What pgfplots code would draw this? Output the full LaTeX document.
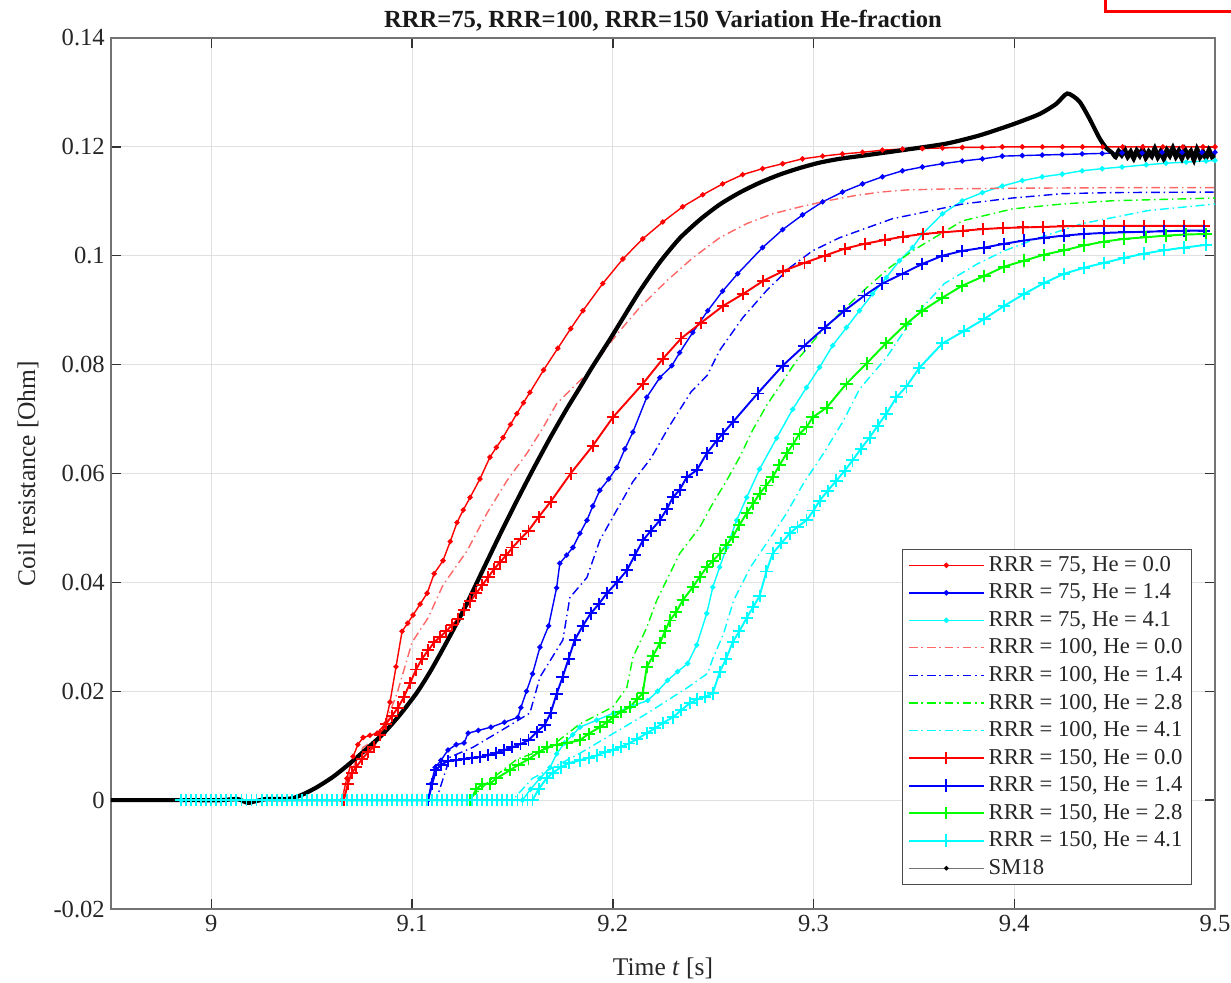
\documentclass[border=0pt]{standalone}
\usepackage{pgfplots}
\pgfplotsset{compat=1.18}
\usepackage{fontspec}
\setmainfont{Liberation Serif}
\definecolor{mred}{rgb}{1,0,0}
\definecolor{mblue}{rgb}{0,0,1}
\definecolor{mcyan}{rgb}{0,1,1}
\definecolor{mgreen}{rgb}{0,1,0}
\begin{document}
\begin{tikzpicture}
\path[use as bounding box] (-22.2mm,-14.8mm) rectangle (224.0mm,181.8mm);
\begin{axis}[
 at={(0,0)}, anchor=south west,
 scale only axis, width=220.8mm, height=174.2mm,
 xmin=8.95, xmax=9.5, ymin=-0.02, ymax=0.14,
 xtick={9,9.1,9.2,9.3,9.4,9.5}, xticklabels={9,9.1,9.2,9.3,9.4,9.5},
 ytick={-0.02,0,0.02,0.04,0.06,0.08,0.1,0.12,0.14},
 yticklabels={-0.02,0,0.02,0.04,0.06,0.08,0.1,0.12,0.14},
 tick align=inside, major tick length=2mm,
 grid=major, major grid style={black!12, line width=0.6pt},
 axis line style={black!55, line width=0.8pt},
 every tick/.style={black!80, line width=0.8pt},
 tick label style={font=\fontsize{14}{16}\selectfont, text=black!85},
 every axis x label/.style={at={(axis description cs:0.5,-0.0758)}, anchor=base, font=\fontsize{14.5}{17}\selectfont, text=black!85},
 every axis y label/.style={at={(axis description cs:-0.0688,0.5)}, anchor=base, rotate=90, font=\fontsize{14.5}{17}\selectfont, text=black!85},
 every axis title/.style={at={(axis description cs:0.5,1.0115)}, anchor=base, font=\bfseries\fontsize{14}{16}\selectfont, text=black!90},
 title={RRR=75, RRR=100, RRR=150 Variation He-fraction},
 xlabel={Time \textit{t} [s]}, ylabel={Coil resistance [Ohm]},
 legend style={at={(0.9792,0.0276)}, anchor=south east, draw=black!70, line width=0.6pt, fill=white,
   font=\fontsize{12.9}{15}\selectfont, text=black!85, row sep=1.2pt, nodes={inner sep=2.2pt}, inner xsep=3pt},
 legend cell align=left,
 legend image code/.code={\draw[mark repeat=2,mark phase=2,#1] plot coordinates {(0mm,0mm) (7.5mm,0mm) (15mm,0mm)};},
 dd/.style={dash pattern=on 5pt off 2.2pt on 0.8pt off 2.2pt},
]
% RRR=75, He=0.0
\addplot[mred, line width=0.8pt, mark=*, mark size=1.1pt, mark options={solid}] coordinates {
(8.985,0) (9.065,0) (9.0675,0.004) (9.0706,0.008) (9.073,0.0102) (9.0756,0.0115) (9.079,0.0119) (9.0826,0.0123)
(9.0866,0.014) (9.089,0.018) (9.092,0.0245) (9.095,0.031) (9.0978,0.0325) (9.1005,0.034) (9.104,0.036) (9.1075,0.038)
(9.111,0.0416) (9.1154,0.044) (9.119,0.0475) (9.1224,0.051) (9.1255,0.0533) (9.1289,0.0556) (9.1338,0.059) (9.1388,0.063)
(9.142,0.0648) (9.1453,0.0666) (9.149,0.069) (9.1522,0.071) (9.1555,0.073) (9.1587,0.0749) (9.1655,0.079) (9.1726,0.083)
(9.179,0.0866) (9.1851,0.0899) (9.195,0.0949) (9.205,0.0994) (9.2149,0.1031) (9.2249,0.1062) (9.2348,0.109) (9.2448,0.1112)
(9.2547,0.1132) (9.2647,0.1149) (9.2746,0.116) (9.2846,0.1169) (9.2945,0.1178) (9.3045,0.1183) (9.3144,0.1187) (9.3244,0.119)
(9.3343,0.1194) (9.3443,0.1196) (9.3542,0.1197) (9.3642,0.1198) (9.3741,0.1199) (9.3841,0.1199) (9.394,0.12) (9.404,0.12)
(9.414,0.12) (9.424,0.12) (9.434,0.12) (9.444,0.12) (9.454,0.12) (9.464,0.12) (9.474,0.12) (9.484,0.12) (9.494,0.12) (9.5,0.12)};
\addlegendentry{RRR = 75, He = 0.0}
% RRR=75, He=1.4
\addplot[mblue, line width=0.8pt, mark=*, mark size=1.1pt, mark options={solid}] coordinates {
(8.985,0) (9.108,0) (9.1095,0.003) (9.1115,0.006) (9.1144,0.0073) (9.1179,0.0092) (9.122,0.0102) (9.1259,0.0105)
(9.1279,0.0123) (9.133,0.0128) (9.1393,0.0134) (9.146,0.0143) (9.1527,0.0152) (9.1542,0.017) (9.157,0.02) (9.16,0.0232)
(9.1637,0.0281) (9.168,0.032) (9.172,0.039) (9.1736,0.0435) (9.177,0.045) (9.1801,0.0464) (9.1836,0.049) (9.1871,0.0514)
(9.19,0.054) (9.1935,0.0569) (9.198,0.059) (9.202,0.0611) (9.206,0.0645) (9.21,0.0676) (9.2169,0.074) (9.2234,0.0776)
(9.2294,0.0798) (9.2333,0.0822) (9.2398,0.0859) (9.2473,0.0899) (9.2547,0.0935) (9.2622,0.0967) (9.2746,0.1015) (9.2846,0.1048)
(9.2945,0.1075) (9.3045,0.1099) (9.3144,0.1117) (9.3244,0.1132) (9.3343,0.1145) (9.3443,0.1156) (9.3542,0.1163) (9.3642,0.1169)
(9.3741,0.1174) (9.3841,0.1178) (9.394,0.1183) (9.404,0.1184) (9.4139,0.1185) (9.4239,0.1186) (9.4338,0.1187) (9.4438,0.1188)
(9.4537,0.1189) (9.4637,0.1189) (9.4736,0.119) (9.4836,0.119) (9.4935,0.119) (9.5,0.119)};
\addlegendentry{RRR = 75, He = 1.4}
% RRR=75, He=4.1
\addplot[mcyan, line width=0.8pt, mark=*, mark size=1.1pt, mark options={solid}] coordinates {
(8.985,0) (9.155,0) (9.159,0.002) (9.1637,0.004) (9.1687,0.006) (9.172,0.0085) (9.176,0.0105) (9.18,0.012) (9.1836,0.0134)
(9.192,0.0147) (9.2005,0.016) (9.209,0.0172) (9.2174,0.0183) (9.2223,0.02) (9.2273,0.022) (9.2323,0.0236) (9.2373,0.0251)
(9.2418,0.0285) (9.2468,0.0343) (9.2498,0.0391) (9.2532,0.0428) (9.2567,0.0464) (9.2617,0.0514) (9.2667,0.0556) (9.2731,0.0608)
(9.2816,0.0665) (9.2896,0.0718) (9.2965,0.0758) (9.303,0.0795) (9.3095,0.0835) (9.3164,0.0868) (9.3229,0.0899) (9.3294,0.093)
(9.3363,0.096) (9.3428,0.0991) (9.3493,0.1015) (9.3542,0.104) (9.3642,0.1077) (9.3741,0.1101) (9.3841,0.1116) (9.394,0.1128)
(9.404,0.1138) (9.4139,0.1145) (9.4239,0.115) (9.4338,0.1156) (9.4438,0.116) (9.4537,0.1163) (9.4657,0.1167) (9.4756,0.117)
(9.4856,0.1172) (9.4955,0.1174) (9.5,0.1175)};
\addlegendentry{RRR = 75, He = 4.1}
% RRR=100, He=0.0
\addplot[mred!60, line width=0.8pt, dd] coordinates {
(8.985,0) (9.0652,0) (9.068,0.004) (9.0756,0.0097) (9.0841,0.0116) (9.0925,0.0196) (9.1,0.029) (9.108,0.0335) (9.1154,0.0395)
(9.1274,0.0458) (9.1373,0.0527) (9.1473,0.0587) (9.1572,0.0637) (9.1652,0.0684) (9.172,0.0728) (9.1886,0.0789) (9.1985,0.0839)
(9.2035,0.0862) (9.2134,0.0905) (9.2269,0.0954) (9.2398,0.0996) (9.2532,0.1033) (9.2667,0.1059) (9.2796,0.1077) (9.2935,0.109)
(9.307,0.1101) (9.3199,0.111) (9.3333,0.1117) (9.3468,0.1121) (9.37,0.1123) (9.4,0.1124) (9.45,0.1125) (9.5,0.1125)};
\addlegendentry{RRR = 100, He = 0.0}
% RRR=100, He=1.4
\addplot[mblue, line width=0.8pt, dd] coordinates {
(8.985,0) (9.112,0) (9.1189,0.0079) (9.1303,0.0097) (9.1472,0.0134) (9.1587,0.016) (9.1637,0.0226) (9.1751,0.0294)
(9.1786,0.0372) (9.1871,0.0409) (9.1935,0.0477) (9.2,0.052) (9.21,0.0585) (9.219,0.0628) (9.228,0.0686) (9.239,0.075)
(9.247,0.078) (9.2532,0.0826) (9.2647,0.0886) (9.2766,0.0936) (9.2881,0.0978) (9.2995,0.1009) (9.3129,0.1033) (9.3264,0.1051)
(9.3393,0.1068) (9.3512,0.1077) (9.3741,0.1095) (9.399,0.1106) (9.4239,0.1114) (9.4488,0.1116) (9.5,0.1117)};
\addlegendentry{RRR = 100, He = 1.4}
% RRR=100, He=2.8
\addplot[mgreen, line width=0.8pt, dd] coordinates {
(8.985,0) (9.128,0) (9.14,0.004) (9.1522,0.0075) (9.1687,0.0097) (9.1836,0.014) (9.2,0.0171) (9.207,0.0207) (9.21,0.0262)
(9.2169,0.0317) (9.2219,0.0367) (9.2333,0.0453) (9.2433,0.0501) (9.2498,0.0545) (9.2567,0.0587) (9.2632,0.063) (9.2697,0.068)
(9.2766,0.0725) (9.2915,0.0807) (9.303,0.0857) (9.3144,0.0899) (9.3264,0.0941) (9.3378,0.0978) (9.3493,0.1009) (9.3741,0.1064)
(9.399,0.1086) (9.4239,0.1095) (9.4488,0.1101) (9.5,0.1106)};
\addlegendentry{RRR = 100, He = 2.8}
% RRR=100, He=4.1
\addplot[mcyan, line width=0.8pt, dd] coordinates {
(8.985,0) (9.15,0) (9.16,0.004) (9.1836,0.0086) (9.2005,0.0123) (9.2174,0.016) (9.2373,0.0207) (9.2473,0.0233) (9.2498,0.026)
(9.2552,0.0306) (9.2602,0.0367) (9.2686,0.0428) (9.2786,0.0483) (9.2866,0.0527) (9.295,0.0582) (9.305,0.0637) (9.3149,0.0697)
(9.3229,0.0755) (9.3363,0.0813) (9.35,0.0888) (9.3652,0.0949) (9.3816,0.0985) (9.395,0.1009) (9.41,0.103) (9.4338,0.1059)
(9.4667,0.1083) (9.5,0.1095)};
\addlegendentry{RRR = 100, He = 4.1}
% RRR=150, He=0.0
\addplot[mred, line width=1.1pt, mark=+, mark size=3.5pt, mark options={solid}] coordinates {
(8.985,0) (9.066,0) (9.068,0.003) (9.07,0.005) (9.072,0.006) (9.075,0.0075) (9.078,0.0088) (9.081,0.0098) (9.084,0.012)
(9.087,0.014) (9.09,0.0155) (9.093,0.017) (9.096,0.019) (9.099,0.0215) (9.102,0.024) (9.105,0.026) (9.108,0.0275) (9.111,0.029)
(9.114,0.03) (9.117,0.031) (9.12,0.0322) (9.123,0.0333) (9.126,0.035) (9.129,0.0365) (9.132,0.038) (9.135,0.0395) (9.138,0.041)
(9.141,0.0425) (9.144,0.0438) (9.147,0.045) (9.15,0.0464) (9.154,0.048) (9.158,0.0495) (9.163,0.052) (9.169,0.0548) (9.179,0.06)
(9.19,0.0651) (9.2,0.0703) (9.215,0.0765) (9.225,0.0811) (9.234,0.0848) (9.244,0.0877) (9.255,0.0908) (9.265,0.093) (9.275,0.0954)
(9.285,0.0972) (9.2955,0.0987) (9.3055,0.1) (9.3155,0.1013) (9.3255,0.1022) (9.3355,0.1029) (9.3445,0.1035) (9.3545,0.104)
(9.3645,0.1043) (9.3745,0.1046) (9.3845,0.1049) (9.3945,0.1051) (9.4045,0.1052) (9.4145,0.1053) (9.4245,0.1054) (9.4345,0.1055)
(9.4445,0.1055) (9.4545,0.1055) (9.4645,0.1055) (9.4745,0.1055) (9.4845,0.1055) (9.4945,0.1055)};
\addlegendentry{RRR = 150, He = 0.0}
% RRR=150, He=1.4
\addplot[mblue, line width=1.1pt, mark=+, mark size=3.5pt, mark options={solid}] coordinates {
(8.985,0) (9.108,0) (9.11,0.003) (9.112,0.0055) (9.1144,0.0065) (9.118,0.0072) (9.122,0.0073) (9.126,0.0076) (9.13,0.0078)
(9.134,0.0079) (9.138,0.0083) (9.142,0.0087) (9.146,0.0092) (9.15,0.0097) (9.154,0.0103) (9.158,0.011) (9.162,0.0125) (9.166,0.0138)
(9.169,0.016) (9.172,0.0195) (9.175,0.0226) (9.178,0.026) (9.181,0.0294) (9.185,0.032) (9.189,0.0343) (9.193,0.036) (9.197,0.038)
(9.202,0.04) (9.207,0.0422) (9.211,0.045) (9.215,0.0477) (9.219,0.0495) (9.2234,0.0514) (9.227,0.0535) (9.2299,0.0556) (9.2333,0.057)
(9.2368,0.0593) (9.2418,0.0606) (9.2468,0.0637) (9.2517,0.066) (9.2547,0.0673) (9.2597,0.0694) (9.2721,0.0747) (9.2846,0.0798)
(9.2955,0.0835) (9.3055,0.0868) (9.3154,0.0899) (9.3254,0.0927) (9.3343,0.0949) (9.3443,0.0967) (9.3542,0.0985) (9.3642,0.1)
(9.3741,0.1009) (9.3851,0.1015) (9.395,0.1022) (9.405,0.1028) (9.4149,0.1033) (9.4249,0.1037) (9.4348,0.104) (9.4448,0.1042)
(9.4547,0.1043) (9.4647,0.1044) (9.4746,0.1045) (9.4846,0.1046) (9.4946,0.1046)};
\addlegendentry{RRR = 150, He = 1.4}
% RRR=150, He=2.8
\addplot[mgreen, line width=1.1pt, mark=+, mark size=3.5pt, mark options={solid}] coordinates {
(8.985,0) (9.129,0) (9.132,0.002) (9.135,0.003) (9.1388,0.003) (9.142,0.004) (9.1488,0.0055) (9.153,0.0065) (9.158,0.0075)
(9.163,0.0088) (9.1672,0.0097) (9.172,0.0102) (9.177,0.0105) (9.1836,0.011) (9.188,0.0122) (9.1935,0.0134) (9.197,0.0143) (9.2,0.0152)
(9.204,0.0162) (9.2085,0.0171) (9.212,0.0185) (9.2149,0.0196) (9.2169,0.0244) (9.22,0.0265) (9.2234,0.0288) (9.226,0.031) (9.2284,0.033)
(9.2315,0.0345) (9.2348,0.0367) (9.2398,0.0391) (9.2433,0.041) (9.2468,0.0428) (9.25,0.044) (9.2532,0.0453) (9.2565,0.0468)
(9.2597,0.0483) (9.263,0.0505) (9.2667,0.0527) (9.27,0.0545) (9.2731,0.0563) (9.2765,0.0578) (9.2796,0.0593) (9.283,0.0615)
(9.2866,0.0637) (9.29,0.0655) (9.293,0.0673) (9.2965,0.0685) (9.2995,0.0703) (9.3065,0.0721) (9.3164,0.0765) (9.3264,0.0802)
(9.3363,0.084) (9.3462,0.0875) (9.3542,0.0899) (9.3642,0.0923) (9.3741,0.0945) (9.3851,0.0963) (9.395,0.098) (9.405,0.0991)
(9.4149,0.1002) (9.4249,0.101) (9.4348,0.1019) (9.4448,0.1026) (9.4547,0.1031) (9.4657,0.1034) (9.4756,0.1037) (9.4856,0.1039)
(9.4955,0.104)};
\addlegendentry{RRR = 150, He = 2.8}
% RRR=150, He=4.1
\addplot[mcyan, line width=1.1pt, mark=+, mark size=3.5pt, mark options={solid}] coordinates {
(8.985,0) (8.9875,0) (8.99,0) (8.9925,0) (8.995,0) (8.9975,0) (9,0) (9.0025,0) (9.005,0) (9.0075,0) (9.01,0) (9.0125,0)
(9.015,0) (9.0175,0) (9.02,0) (9.0225,0) (9.025,0) (9.0275,0) (9.03,0) (9.0325,0) (9.035,0) (9.0375,0) (9.04,0) (9.0425,0)
(9.045,0) (9.0475,0) (9.05,0) (9.0525,0) (9.055,0) (9.0575,0) (9.06,0) (9.0625,0) (9.065,0) (9.0675,0) (9.07,0) (9.0725,0)
(9.075,0) (9.0775,0) (9.08,0) (9.0825,0) (9.085,0) (9.0875,0) (9.09,0) (9.0925,0) (9.095,0) (9.0975,0) (9.1,0) (9.1025,0)
(9.105,0) (9.1075,0) (9.11,0) (9.1125,0) (9.115,0) (9.1175,0) (9.12,0) (9.1225,0) (9.125,0) (9.1275,0) (9.13,0) (9.1325,0)
(9.135,0) (9.1375,0) (9.14,0) (9.1425,0) (9.145,0) (9.1475,0) (9.15,0) (9.1525,0) (9.155,0) (9.1575,0) (9.16,0)
(9.163,0.002) (9.167,0.004) (9.17,0.005) (9.174,0.006) (9.178,0.0068) (9.1836,0.0073) (9.188,0.0078) (9.192,0.0082) (9.196,0.0088)
(9.2,0.0092) (9.204,0.0098) (9.208,0.0104) (9.212,0.0112) (9.2169,0.0123) (9.221,0.0132) (9.225,0.0142) (9.2299,0.0152) (9.234,0.0165)
(9.2383,0.0178) (9.242,0.0185) (9.246,0.019) (9.2498,0.0196) (9.2532,0.0235) (9.2565,0.026) (9.2597,0.029) (9.263,0.031)
(9.2667,0.0335) (9.27,0.0355) (9.2731,0.0375) (9.2765,0.042) (9.2796,0.0453) (9.284,0.0472) (9.2881,0.049) (9.292,0.0502)
(9.2965,0.0514) (9.3,0.0532) (9.303,0.055) (9.307,0.0568) (9.3114,0.0587) (9.3155,0.0605) (9.3194,0.0624) (9.3235,0.0645)
(9.3279,0.0666) (9.332,0.0688) (9.3363,0.071) (9.3413,0.074) (9.3463,0.076) (9.3527,0.0794) (9.3642,0.0839) (9.3751,0.0862)
(9.3851,0.0884) (9.395,0.0908) (9.405,0.093) (9.4149,0.095) (9.4249,0.0967) (9.4348,0.0978) (9.4448,0.0987) (9.4547,0.0996)
(9.4647,0.1004) (9.4746,0.101) (9.4846,0.1015) (9.4955,0.102)};
\addlegendentry{RRR = 150, He = 4.1}
% SM18 measurement
\addplot[black, line width=2.4pt, smooth, tension=0.4, forget plot] coordinates {
(8.95,0) (8.97,0) (8.99,0) (9.005,0) (9.013,0.0002) (9.018,-0.0005) (9.022,-0.0002) (9.027,0.0002) (9.032,0.0002) (9.037,0.0002)
(9.041,0.0004) (9.0465,0.0012) (9.0527,0.0024) (9.0607,0.0043) (9.0692,0.0068) (9.0776,0.0095) (9.0856,0.0122) (9.094,0.0157)
(9.1025,0.0198) (9.109,0.0236) (9.1154,0.0278) (9.1224,0.0326) (9.1274,0.0362) (9.1313,0.0392) (9.1353,0.0423) (9.1438,0.0488)
(9.1522,0.055) (9.1602,0.0607) (9.1687,0.0665) (9.1771,0.0719) (9.1836,0.0758) (9.19,0.0797) (9.1985,0.0846) (9.2035,0.0876)
(9.2134,0.0935) (9.2234,0.0988) (9.2333,0.1032) (9.2433,0.1066) (9.2532,0.1094) (9.2632,0.1116) (9.2731,0.1134) (9.2831,0.1149)
(9.293,0.1161) (9.303,0.1171) (9.3129,0.1178) (9.3229,0.1183) (9.3328,0.1188) (9.3463,0.1195) (9.3662,0.1206) (9.3826,0.1221)
(9.399,0.1241) (9.4124,0.126) (9.4209,0.1279) (9.4264,0.1298) (9.4323,0.1284) (9.4373,0.1253) (9.4423,0.1217) (9.4458,0.1198)
(9.4488,0.1189) (9.4505,0.1181) (9.452,0.1193) (9.4535,0.1184) (9.455,0.1196) (9.4565,0.1181) (9.458,0.1192) (9.4595,0.1178)
(9.461,0.1194) (9.4625,0.1183) (9.464,0.1197) (9.4655,0.1179) (9.467,0.1192) (9.4685,0.1182) (9.47,0.1198) (9.4715,0.118)
(9.473,0.1193) (9.4745,0.1177) (9.476,0.1195) (9.4775,0.1183) (9.479,0.1199) (9.4805,0.1181) (9.482,0.1194) (9.4835,0.1178)
(9.485,0.1196) (9.4865,0.1182) (9.488,0.1193) (9.4895,0.1175) (9.491,0.1197) (9.4925,0.118) (9.494,0.1192) (9.4955,0.1178)
(9.497,0.1195) (9.4985,0.1181) (9.5,0.1188)};
\addlegendimage{black!55, line width=0.6pt, mark=*, mark size=1pt, mark options={black}}
\addlegendentry{SM18}
\end{axis}
\draw[red, line width=0.6mm] (198.8mm,184mm) -- (198.8mm,179.4mm) -- (230mm,179.4mm);
\end{tikzpicture}
\end{document}
